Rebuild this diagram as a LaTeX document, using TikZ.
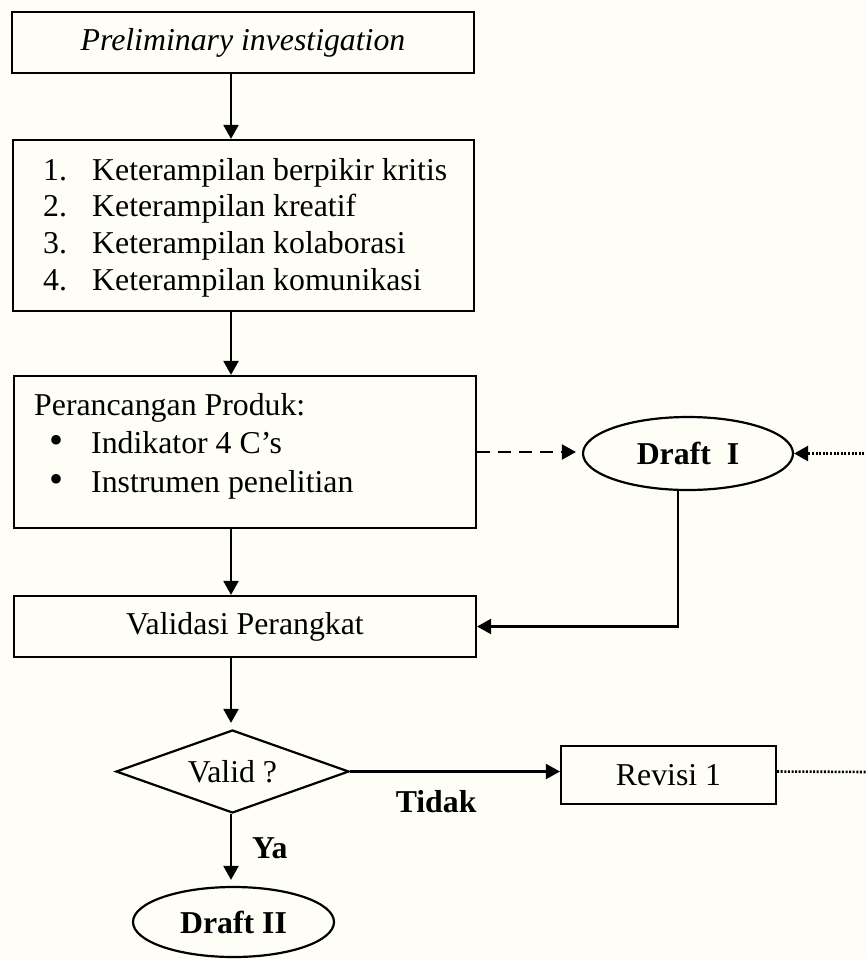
\documentclass[tikz,border=0pt]{standalone}
\usepackage{fontspec}
\setmainfont{Liberation Serif}
\usetikzlibrary{shapes.geometric,arrows.meta}
\definecolor{bgcream}{RGB}{254,254,247}
\begin{document}
\begin{tikzpicture}[x=1pt,y=-1pt,
  every node/.style={font=\fontsize{31.8}{36.7}\selectfont},
  box/.style={draw,line width=2.2pt,rectangle,inner sep=0pt},
  oval/.style={draw,line width=2.2pt,ellipse,inner sep=0pt,font=\fontsize{31.8}{36.7}\selectfont\bfseries},
  decision/.style={draw,line width=2.2pt,diamond,inner sep=0pt,shape aspect=2.8},
  tip/.style={-{Triangle[length=14pt,width=15pt]}},
  arr/.style={line width=2.2pt,tip},
  dashline/.style={line width=2.2pt,dash pattern=on 13pt off 8pt},
  dotline/.style={line width=2.6pt,dash pattern=on 2pt off 1.6pt},
  lbl/.style={inner sep=0pt,font=\fontsize{31.8}{36.7}\selectfont\bfseries},
  bul/.style={}
]
\fill[bgcream] (0,0) rectangle (866,959);
\useasboundingbox (0,0) rectangle (866,959);

\node[box, minimum width=462pt, minimum height=61pt] (pi) at (243,42.5) {\itshape Preliminary investigation};

\node[box, minimum width=461pt, minimum height=171pt] (skills) at (243.5,225.5) {};
\node[anchor=north west, inner sep=0pt, align=left] (skillstext) at (43,158)
  {\makebox[49pt][l]{1.}Keterampilan berpikir kritis\\
   \makebox[49pt][l]{2.}Keterampilan kreatif\\
   \makebox[49pt][l]{3.}Keterampilan kolaborasi\\
   \makebox[49pt][l]{4.}Keterampilan komunikasi};

\node[box, minimum width=462pt, minimum height=152pt] (design) at (245,452) {};
\node[anchor=north west, inner sep=0pt, align=left, font=\fontsize{31.8}{38.5}\selectfont] (designtext) at (34,393)
  {Perancangan Produk:\\
   \hspace*{15pt}\makebox[42pt][l]{\fontsize{40}{38.5}\selectfont•}Indikator 4 C’s\\
   \hspace*{15pt}\makebox[42pt][l]{\fontsize{40}{38.5}\selectfont•}Instrumen penelitian};

\node[oval, minimum width=210pt, minimum height=73pt] (draft1) at (688,453.5) {Draft\ \ I};

\node[box, minimum width=462pt, minimum height=61pt] (valid) at (245,626.5) {Validasi Perangkat};

\node[decision, minimum width=233pt, minimum height=83pt] (dec) at (232.5,771.5) {Valid ?};

\node[box, minimum width=215pt, minimum height=58pt] (rev) at (668.5,775) {Revisi 1};

\node[oval, minimum width=201pt, minimum height=70pt] (draft2) at (233.5,922) {Draft II};

\coordinate (spine) at (231,0);
\coordinate (edgeA) at (868,453.5);
\coordinate (edgeB) at (868,772);

\draw[arr] (pi.south -| spine) -- (skills.north -| spine);
\draw[arr] (skills.south -| spine) -- (design.north -| spine);
\draw[arr] (design.south -| spine) -- (valid.north -| spine);
\draw[arr, shorten >=6pt] (valid.south -| spine) -- (dec.north -| spine);
\draw[arr, shorten >=6pt] (dec.south -| spine) -- (draft2.north -| spine)
  node[lbl, pos=0.48, anchor=west, xshift=20pt] (ya) {Ya};

\draw[dashline, tip, shorten >=6pt] (design.east) -- (design.east -| draft1.west);
\draw[arr] ([xshift=-10pt]draft1.south) |- (valid.east);

\draw[arr] (dec.east) -- (dec.east -| rev.west)
  node[lbl, pos=0.41, below=18pt] (tidak) {Tidak};

\draw[dotline] (rev.east |- dec.east) -- (edgeB);
\draw[dotline, tip] (edgeA) -- (draft1.east);
\end{tikzpicture}
\end{document}
